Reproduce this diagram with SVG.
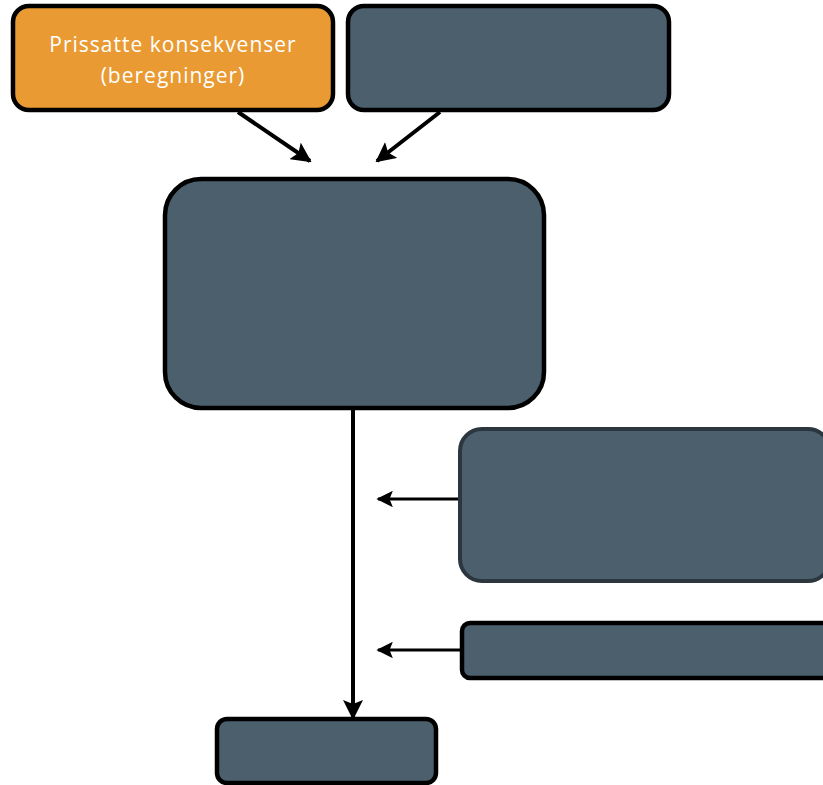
<svg xmlns="http://www.w3.org/2000/svg" width="823" height="785" viewBox="0 0 823 785">
<style>
.box{fill:#4B5F6D;stroke:#000;stroke-width:4.5}
.org{fill:#E99A33;stroke:#000;stroke-width:4.5}
.soft{fill:#4B5F6D;stroke:#2B363E;stroke-width:4}
.con{stroke:#000;stroke-width:4;fill:none}
.thin{stroke:#000;stroke-width:3;fill:none}
.lbl{font-family:"Open Sans","Liberation Sans",sans-serif;font-size:21px;letter-spacing:1px;fill:#fff;text-anchor:middle}
</style>
<defs>
<marker id="ah" viewBox="0 0 10 10" refX="9" refY="5" markerWidth="5" markerHeight="5" orient="auto" markerUnits="strokeWidth">
<path d="M0,0 L10,5 L0,10 L2,5 z" fill="#000"/>
</marker>
<marker id="ah2" viewBox="0 0 10 10" refX="9" refY="5" markerWidth="5.5" markerHeight="5.5" orient="auto" markerUnits="strokeWidth">
<path d="M0,0 L10,5 L0,10 L2,5 z" fill="#000"/>
</marker>
</defs>
<g id="connectors">
<line class="con" x1="238" y1="112" x2="310" y2="161" marker-end="url(#ah)"/>
<line class="con" x1="440" y1="112" x2="377" y2="161" marker-end="url(#ah)"/>
<line class="con" x1="353" y1="409" x2="353" y2="718" marker-end="url(#ah)"/>
<line class="thin" x1="459" y1="499" x2="378" y2="499" marker-end="url(#ah2)"/>
<line class="thin" x1="461" y1="650" x2="378" y2="650" marker-end="url(#ah2)"/>
</g>
<g id="n1">
<rect class="org" x="13" y="6" width="320" height="104" rx="16"/>
<text class="lbl" x="173" y="52">Prissatte konsekvenser</text>
<text class="lbl" x="173" y="83">(beregninger)</text>
</g>
<g id="n2"><rect class="box" x="348" y="6" width="321" height="104" rx="16"/></g>
<g id="n3"><rect class="box" x="165" y="179" width="379" height="229" rx="36"/></g>
<g id="n4"><rect class="soft" x="460" y="429" width="370" height="152" rx="22"/></g>
<g id="n5"><rect class="box" x="462" y="623" width="370" height="55" rx="8"/></g>
<g id="n6"><rect class="box" x="217" y="719" width="219" height="64" rx="10"/></g>
</svg>
